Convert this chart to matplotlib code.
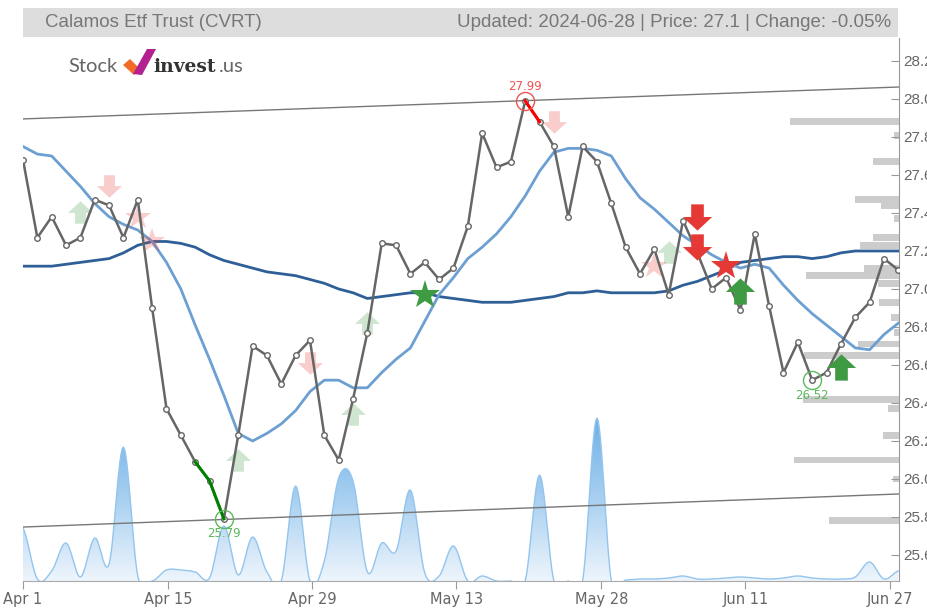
import numpy as np
import matplotlib
matplotlib.use("Agg")
import matplotlib.pyplot as plt
from matplotlib.path import Path
from matplotlib.patches import Rectangle, Polygon
from matplotlib.colors import LinearSegmentedColormap

# ---- data (62 trading days, Apr 1 - Jun 28 2024) ----
close = [27.68, 27.27, 27.38, 27.23, 27.27, 27.47, 27.44, 27.27, 27.47, 26.90,
         26.37, 26.23, 26.09, 25.99, 25.79, 26.23, 26.70, 26.65, 26.50, 26.65,
         26.73, 26.23, 26.10, 26.42, 26.77, 27.24, 27.23, 27.08, 27.14, 27.05,
         27.11, 27.33, 27.82, 27.64, 27.67, 27.99, 27.88, 27.75, 27.38, 27.75,
         27.67, 27.45, 27.22, 27.08, 27.21, 26.97, 27.36, 27.19, 27.00, 27.06,
         26.89, 27.29, 26.91, 26.56, 26.72, 26.52, 26.56, 26.71, 26.85, 26.93,
         27.16, 27.10]

ma_short = [27.75, 27.71, 27.70, 27.62, 27.54, 27.45, 27.38, 27.34, 27.31, 27.25,
            27.14, 27.00, 26.81, 26.63, 26.44, 26.24, 26.20, 26.24, 26.29, 26.36,
            26.46, 26.52, 26.52, 26.48, 26.48, 26.56, 26.63, 26.69, 26.83, 26.97,
            27.06, 27.16, 27.22, 27.29, 27.38, 27.49, 27.62, 27.72, 27.74, 27.74,
            27.73, 27.70, 27.58, 27.48, 27.42, 27.35, 27.28, 27.23, 27.18, 27.14,
            27.11, 27.13, 27.11, 27.02, 26.94, 26.87, 26.81, 26.75, 26.69, 26.68,
            26.76, 26.82]

ma_long = [27.12, 27.12, 27.12, 27.13, 27.14, 27.15, 27.16, 27.19, 27.23, 27.25,
           27.25, 27.24, 27.22, 27.18, 27.15, 27.13, 27.11, 27.09, 27.08, 27.07,
           27.05, 27.03, 27.00, 26.98, 26.95, 26.96, 26.97, 26.98, 26.98, 26.96,
           26.95, 26.94, 26.93, 26.93, 26.93, 26.94, 26.95, 26.96, 26.98, 26.98,
           26.99, 26.98, 26.98, 26.98, 26.98, 26.99, 27.02, 27.04, 27.07, 27.10,
           27.14, 27.15, 27.16, 27.17, 27.17, 27.16, 27.17, 27.19, 27.20, 27.20,
           27.20, 27.20]

volume = [5300, 200, 1000, 3800, 400, 4300, 1700, 13400, 500, 0,
          1100, 1100, 900, 300, 5500, 600, 4400, 900, 0, 9500,
          0, 2000, 10300, 10000, 900, 3800, 3000, 9100, 800, 500,
          3500, 0, 500, 0, 0, 0, 10600, 0, 0, 0,
          16300, 0, 100, 200, 200, 300, 500, 200, 200, 300,
          400, 300, 200, 300, 500, 300, 200, 200, 400, 1900,
          200, 1000]

# volume profile (price level, relative size)
profile_price = [27.88, 27.81, 27.67, 27.47, 27.44, 27.37, 27.27, 27.23, 27.11, 27.07,
                 27.03, 26.93, 26.85, 26.77, 26.71, 26.65, 26.42, 26.37, 26.23, 26.10,
                 26.00, 25.78]
profile_size = [109, 5, 26, 44, 18, 5, 26, 39, 35, 93,
                21, 20, 8, 5, 41, 95, 96, 11, 16, 105,
                6, 70]

# trend channel
channel_x = [0, 61]
channel_upper = [27.895, 28.063]
channel_lower = [25.747, 25.921]

# signals
up_light_idx, up_light_val = [4, 15, 23, 24, 45], [27.405, 26.10, 26.34, 26.82, 27.195]
up_dark_idx, up_dark_val = [50, 57], [26.99, 26.59]
down_light_idx, down_light_val = [6, 20, 37], [27.54, 26.61, 27.88]
down_dark_idx, down_dark_val = [47, 47], [27.38, 27.22]
star_red_light_idx, star_red_light_val = [8, 9, 44], [27.38, 27.25, 27.12]
star_red_idx, star_red_val = [49], [27.12]
star_green_idx, star_green_val = [28], [26.97]

tick_pos = [0, 10.1, 20.15, 30.2, 40.3, 50.35, 60.4]
tick_labels = ["Apr 1", "Apr 15", "Apr 29", "May 13", "May 28", "Jun 11", "Jun 27"]
y_ticks = [25.6, 25.8, 26.0, 26.2, 26.4, 26.6, 26.8, 27.0, 27.2, 27.4, 27.6, 27.8, 28.0, 28.2]

title_left = "Calamos Etf Trust (CVRT)"
title_right = "Updated: 2024-06-28 | Price: 27.1 | Change: -0.05%"

GREEN = "#3f9b43"
RED = "#e53935"
GREY = "#666666"


def smooth(xs, ys, n=12):
    # Catmull-Rom spline through the points
    xs = np.asarray(xs, float)
    ys = np.asarray(ys, float)
    p = np.concatenate([[ys[0]], ys, [ys[-1]]])
    out_x, out_y = [], []
    for i in range(len(xs) - 1):
        p0, p1, p2, p3 = p[i], p[i + 1], p[i + 2], p[i + 3]
        t = np.linspace(0, 1, n, endpoint=False)
        y = 0.5 * (2 * p1 + (-p0 + p2) * t + (2 * p0 - 5 * p1 + 4 * p2 - p3) * t ** 2
                   + (-p0 + 3 * p1 - 3 * p2 + p3) * t ** 3)
        out_x.extend(xs[i] + (xs[i + 1] - xs[i]) * t)
        out_y.extend(y)
    out_x.append(xs[-1])
    out_y.append(ys[-1])
    return np.array(out_x), np.array(out_y)


def arrow_marker(up=True):
    v = [(-15, -0.5), (0, 13.5), (15, -0.5), (6.5, -0.5), (6.5, -13.5),
         (-6.5, -13.5), (-6.5, -0.5), (-15, -0.5)]
    if not up:
        v = [(a, -b) for a, b in v]
    codes = [Path.MOVETO] + [Path.LINETO] * 6 + [Path.CLOSEPOLY]
    return Path(v, codes)


W, H = 928, 608
fig = plt.figure(figsize=(W / 100, H / 100), dpi=100)


def fx(x):
    return x / W


def fy(y):
    return 1 - y / H


left, right, top, bottom = 23, 899, 38, 581
ax_rect = [fx(left), fy(bottom), fx(right) - fx(left), fy(top) - fy(bottom)]
vol_ax = fig.add_axes(ax_rect, zorder=0)
prof_ax = fig.add_axes(ax_rect, zorder=1)
ax = fig.add_axes(ax_rect, zorder=2)
for a in (vol_ax, prof_ax, ax):
    a.patch.set_visible(False)
vol_ax.patch.set_visible(True)
vol_ax.patch.set_facecolor("white")

x = np.arange(len(close))
xmax = 61.05
ylo, yhi = 25.463, 28.321

# ---- volume area with gradient ----
sx, sy = smooth(x, volume)
vol_ax.set_xlim(0, xmax)
vol_ax.set_ylim(0, 54300)
verts = np.column_stack([np.concatenate([sx, [sx[-1], sx[0]]]),
                         np.concatenate([sy, [0, 0]])])
clip = Polygon(verts, closed=True, facecolor="none", edgecolor="none",
               transform=vol_ax.transData)
vol_ax.add_patch(clip)
cmap = LinearSegmentedColormap.from_list("vol", ["#eef5fc", "#a9d0f1", "#6fb1e6"])
grad = np.linspace(0, 1, 256).reshape(-1, 1)
img = vol_ax.imshow(grad, extent=[0, xmax, 0, max(volume)], origin="lower",
                    aspect="auto", cmap=cmap, interpolation="bilinear")
img.set_clip_path(clip)
vol_ax.plot(sx, sy, color="#93c5ee", lw=1.0)
vol_ax.set_xlim(0, xmax)
vol_ax.set_ylim(0, 54300)
vol_ax.axis("off")

# ---- volume profile ----
prof_ax.barh(profile_price, profile_size, height=0.036, left=0, color="#cccccc")
prof_ax.set_xlim(876, 0)
prof_ax.set_ylim(ylo, yhi)
prof_ax.axis("off")

# ---- price chart ----
ax.plot(channel_x, channel_upper, color="#777777", lw=1.0, zorder=2)
ax.plot(channel_x, channel_lower, color="#777777", lw=1.0, zorder=2)
ax.plot(x, ma_long, color="#2f5f97", lw=2.0, zorder=3)
ax.plot(x, ma_short, color="#6c9fd2", lw=2.0, zorder=3)

up = arrow_marker(True)
down = arrow_marker(False)
ax.plot(up_light_idx, up_light_val, ls="none", marker=up, ms=18, color=GREEN, alpha=0.25, mew=0, zorder=3.5)
ax.plot(down_light_idx, down_light_val, ls="none", marker=down, ms=18, color=RED, alpha=0.25, mew=0, zorder=3.5)
ax.plot(star_red_light_idx, star_red_light_val, ls="none", marker="*", ms=19, color=RED, alpha=0.25, mew=0, zorder=3.5)

ax.plot(x, close, color=GREY, lw=1.8, marker="o", ms=4, mfc="white", mec=GREY, mew=1.0, zorder=4)
ax.plot(x[35:37], close[35:37], color="#ff0000", lw=2.2, zorder=4.5)
ax.plot(x[12:15], close[12:15], color="#008000", lw=2.2, zorder=4.5)

ax.plot(up_dark_idx, up_dark_val, ls="none", marker=up, ms=21, color=GREEN, mew=0, zorder=6)
ax.plot(down_dark_idx, down_dark_val, ls="none", marker=down, ms=21, color=RED, mew=0, zorder=6)
ax.plot(star_red_idx, star_red_val, ls="none", marker="*", ms=22, color=RED, mew=0, zorder=6)
ax.plot(star_green_idx, star_green_val, ls="none", marker="*", ms=22, color=GREEN, mew=0, zorder=6)

# high / low markers
hi_i = int(np.argmax(close))
lo_i = int(np.argmin(close))
ax.plot(hi_i, close[hi_i], marker="o", ms=13, mfc="none", mec="#ef5350", mew=1.0, zorder=5)
ax.annotate(f"{close[hi_i]:.2f}", (hi_i, close[hi_i]), xytext=(0, 6), textcoords="offset points",
            ha="center", va="bottom", fontsize=8.5, color="#ef5350")
for i in (lo_i, 55):
    ax.plot(i, close[i], marker="o", ms=13, mfc="none", mec="#5cb85c", mew=1.0, zorder=5)
    ax.annotate(f"{close[i]:.2f}", (i, close[i]), xytext=(0, -6), textcoords="offset points",
                ha="center", va="top", fontsize=8.5, color="#5cb85c")

ax.set_xlim(0, xmax)
ax.set_ylim(ylo, yhi)
ax.set_xticks(tick_pos)
ax.set_xticklabels(tick_labels, family=["Liberation Sans Narrow", "DejaVu Sans"], fontsize=10.5)
ax.set_yticks(y_ticks)
ax.set_yticklabels([f"{v:.1f}" for v in y_ticks], family="Liberation Sans", fontsize=11)
ax.yaxis.tick_right()
for s in ("left", "top"):
    ax.spines[s].set_visible(False)
ax.spines["right"].set_color("#999999")
ax.spines["bottom"].set_color("#aaaaaa")
ax.tick_params(axis="y", direction="in", length=6, color="#999999", labelcolor="#666666", pad=3)
ax.tick_params(axis="x", direction="out", length=6, color="#999999", labelcolor="#666666", pad=2)

# ---- header bar ----
fig.patches.append(Rectangle((fx(23), fy(37)), fx(898) - fx(23), fy(8) - fy(37),
                             transform=fig.transFigure, facecolor="#dddddd", edgecolor="none"))
fig.text(fx(45), fy(22.5), title_left, fontsize=13.5, color="#777777", va="center", ha="left",
         family="Liberation Sans")
fig.text(fx(891), fy(22.5), title_right, fontsize=13.5, color="#777777", va="center", ha="right",
         family="Liberation Sans")

# ---- logo ----
fig.text(fx(68), fy(72), "Stock", fontsize=14.5, color="#666666", family="Lato", va="baseline")
fig.patches.append(Polygon([(fx(123), fy(65)), (fx(130), fy(59)), (fx(140), fy(69)), (fx(134), fy(75))],
                           closed=True, transform=fig.transFigure, facecolor="#f26a2a", edgecolor="none"))
fig.patches.append(Polygon([(fx(133), fy(74)), (fx(147), fy(49)), (fx(156), fy(49)), (fx(142), fy(75))],
                           closed=True, transform=fig.transFigure, facecolor="#b3208f", edgecolor="none"))
fig.text(fx(153), fy(72), "invest", fontsize=13.5, color="#333333", family="DejaVu Serif",
         weight="bold", va="baseline")
fig.text(fx(219), fy(72), ".us", fontsize=14.5, color="#666666", family="Lato", va="baseline")

fig.savefig("out.png", dpi=100)
